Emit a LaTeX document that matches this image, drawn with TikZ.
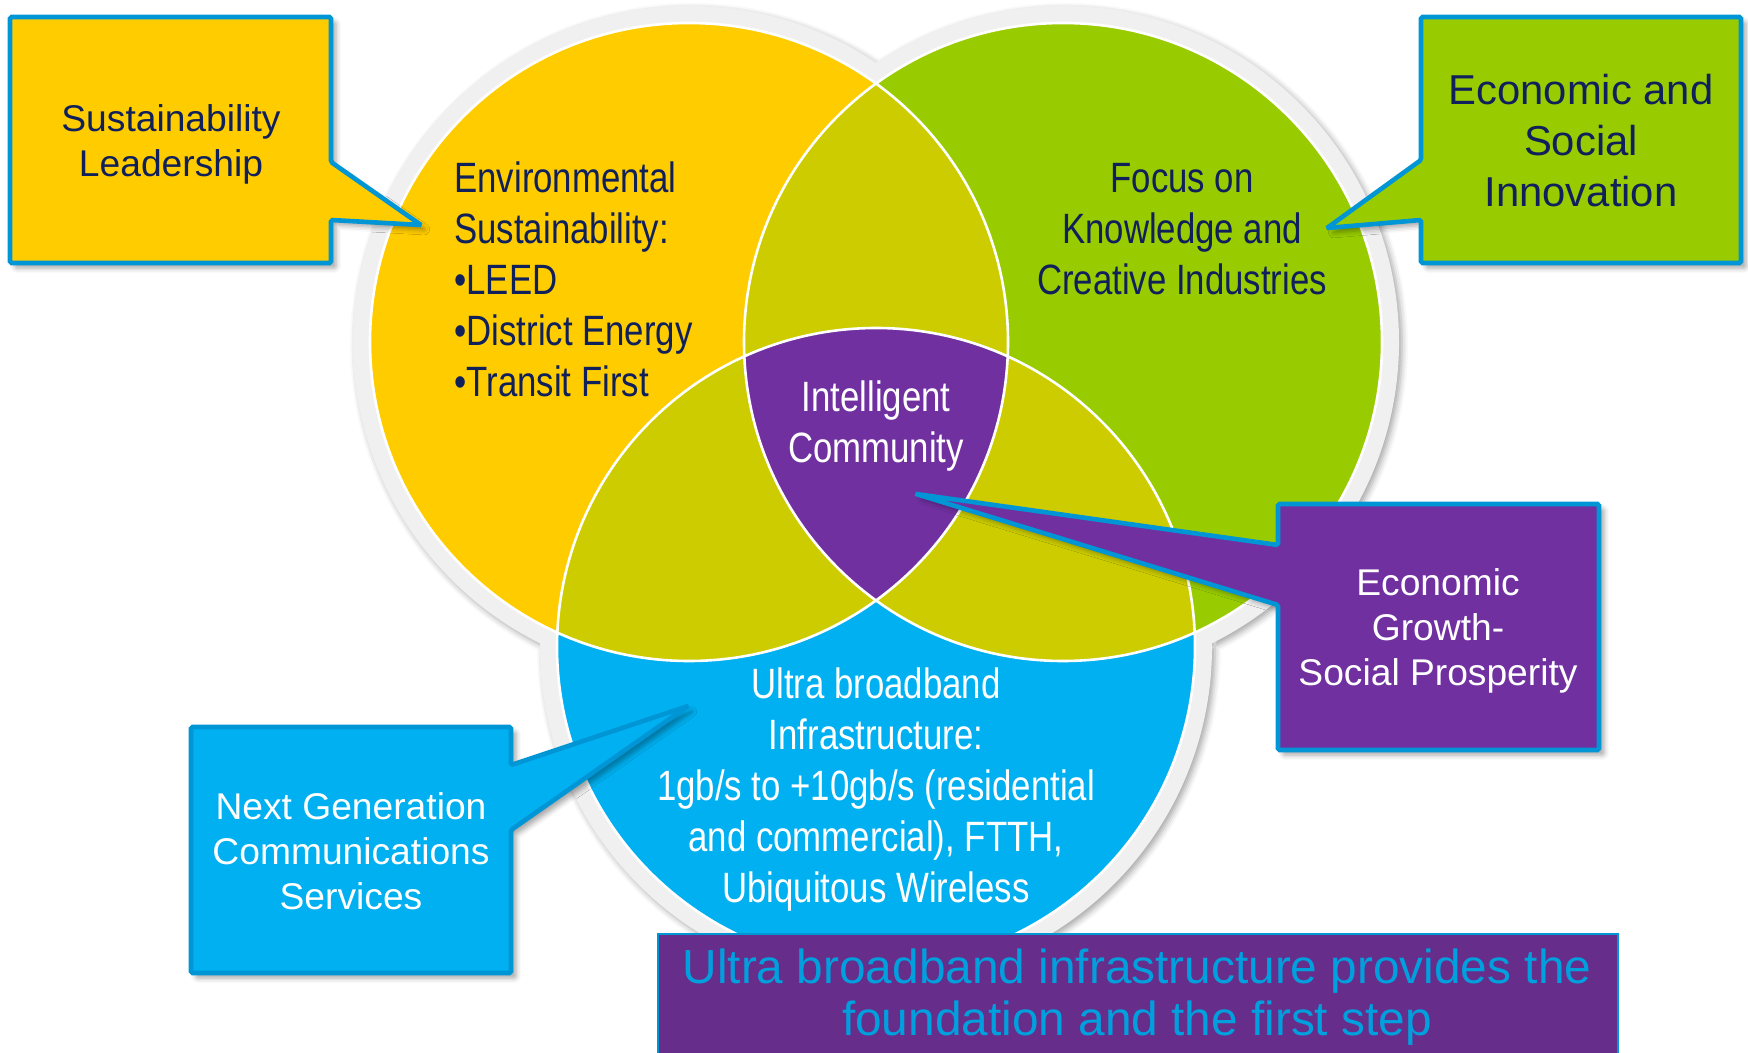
\documentclass[tikz,border=0pt]{standalone}
\usepackage{fontspec}
\setmainfont{Liberation Sans}
\newfontfamily\narrowfont[FakeStretch=0.82]{Liberation Sans}
\usetikzlibrary{shadows.blur}
\definecolor{cyel}{RGB}{255,204,0}
\definecolor{cgrn}{RGB}{153,204,0}
\definecolor{colive}{RGB}{204,204,0}
\definecolor{cblue}{RGB}{0,176,240}
\definecolor{cpurp}{RGB}{112,48,160}
\definecolor{cband}{RGB}{102,45,138}
\definecolor{cborder}{RGB}{0,150,214}
\definecolor{cnavy}{RGB}{16,32,90}
\definecolor{cring}{RGB}{240,240,240}
\definecolor{cbantext}{RGB}{0,160,222}
\begin{document}
\begin{tikzpicture}[x=0.5pt,y=-0.5pt,
  callout/.style={draw=cborder, line width=2.3pt, rounded corners=0.8pt,
    blur shadow={shadow xshift=2.5pt, shadow yshift=-2.5pt, shadow blur radius=2.5pt, shadow opacity=35}},
  boxtext/.style={font=\fontsize{18.6}{22.6}\selectfont, align=center, inner sep=0pt},
  circtext/.style={font=\narrowfont\fontsize{21.2}{25.5}\selectfont, inner sep=0pt},
  ringshadow/.style={blur shadow={shadow xshift=1.5pt, shadow yshift=-1.5pt, shadow blur radius=3pt, shadow opacity=35}}
]
\useasboundingbox (0,0) rectangle (1748,1053);
\coordinate (Y) at (689,342);
\coordinate (G) at (1063,342);
\coordinate (B) at (876,647);
% grey rings
\fill[cring, ringshadow] (Y) circle[radius=168pt] (G) circle[radius=168pt] (B) circle[radius=168pt];
% colored discs
\fill[cyel] (Y) circle[radius=159.5pt];
\fill[cgrn] (G) circle[radius=159.5pt];
\fill[cblue] (B) circle[radius=159.5pt];
\begin{scope}
  \clip (Y) circle[radius=159.5pt];
  \fill[colive] (G) circle[radius=159.5pt] (B) circle[radius=159.5pt];
\end{scope}
\begin{scope}
  \clip (G) circle[radius=159.5pt];
  \fill[colive] (B) circle[radius=159.5pt];
\end{scope}
\begin{scope}
  \clip (Y) circle[radius=159.5pt];
  \clip (G) circle[radius=159.5pt];
  \fill[cpurp] (B) circle[radius=159.5pt];
\end{scope}
\draw[white, line width=1.3pt] (Y) circle[radius=159.5pt] (G) circle[radius=159.5pt] (B) circle[radius=159.5pt];
% circle texts
\node[circtext, text=cnavy, anchor=west, align=left] (c1) at (454,279)
  {Environmental\\Sustainability:\\•LEED\\•District Energy\\•Transit First};
\node[circtext, text=cnavy, align=center] (c2) at (1182,229)
  {Focus on\\Knowledge and\\Creative Industries};
\node[circtext, text=white, align=center] (c3) at (876,426.5) {Intelligent\\Community};
\node[circtext, text=white, align=center] (c4) at (876,790)
  {Ultra broadband\\Infrastructure:\\1gb/s to +10gb/s (residential\\and commercial), FTTH,\\Ubiquitous Wireless};
% callouts
\filldraw[callout, fill=cyel] (10,17) -- (331,17) -- (331,162) -- (421,225) -- (331,220) -- (331,263) -- (10,263) -- cycle;
\filldraw[callout, fill=cgrn] (1421,17) -- (1741,17) -- (1741,263) -- (1421,263) -- (1421,220) -- (1327,228) -- (1421,160) -- cycle;
\filldraw[callout, fill=cpurp] (1278,504) -- (1599,504) -- (1599,750) -- (1278,750) -- (1278,605) -- (916,494) -- (1278,545) -- cycle;
\filldraw[callout, fill=cblue] (191,727) -- (511,727) -- (511,765) -- (688,706) -- (511,830) -- (511,973) -- (191,973) -- cycle;
\node[boxtext, text=cnavy] (t1) at (171,144.5) {Sustainability\\Leadership};
\node[boxtext, text=cnavy, font=\fontsize{20.9}{25.5}\selectfont] (t2) at (1581,141) {Economic and\\Social\\Innovation};
\node[boxtext, text=white] (t3) at (1438,631) {Economic\\Growth-\\Social Prosperity};
\node[boxtext, text=white] (t4) at (351,851) {Next Generation\\Communications\\Services};
% banner
\fill[cband] (658,934) rectangle (1618,1053);
\draw[cborder, line width=0.8pt] (658,1053) -- (658,934) -- (1618,934) -- (1618,1053);
\node[text=cbantext, align=center, font=\fontsize{23.9}{26}\selectfont, inner sep=0pt] (ban) at (1137,997.5)
  {Ultra broadband infrastructure provides the\\foundation and the first step};
\end{tikzpicture}
\end{document}
